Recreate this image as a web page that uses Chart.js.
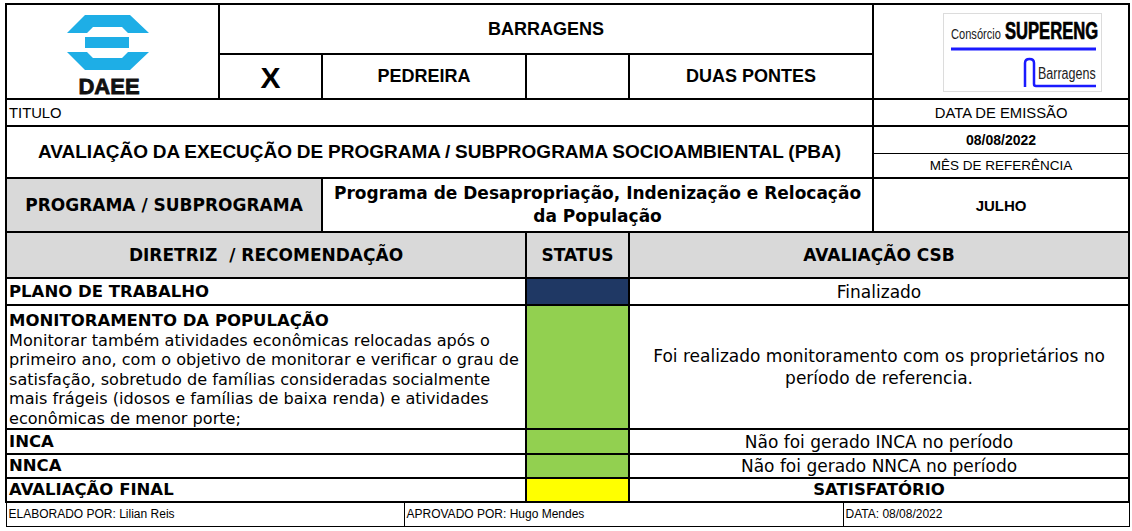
<!DOCTYPE html>
<html lang="pt-BR">
<head>
<meta charset="utf-8">
<title>Avaliação da Execução de Programa - PBA</title>
<script src="https://cdn.jsdelivr.net/npm/chart.js@4.4.0/dist/chart.umd.min.js"></script>
<style>
  html, body { margin: 0; padding: 0; background: #fff; }
  body { width: 1132px; height: 531px; overflow: hidden; position: relative; }

  #sheet {
    position: absolute; left: 5px; top: 3px;
    width: 1123px;
    border-collapse: collapse;
    table-layout: fixed;
  }
  #sheet td {
    border: 2px solid #000;
    padding: 0;
    text-align: center;
    vertical-align: middle;
    color: #000;
    font-family: "Liberation Sans", Arial, sans-serif;
    overflow: hidden;
    position: relative;
  }
  #sheet td.logo { overflow: visible; }
  #sheet td.logo svg { overflow: visible; }
  /* cabecalho (Arial) */
  .hb { font-weight: bold; font-size: 18px; }
  .bigx { font-weight: bold; font-size: 30px; padding-top: 3px !important; }
  .small { font-size: 13.5px; }
  .small15 { font-size: 14.8px; }
  .smallb { font-size: 14px; font-weight: bold; }
  .left { text-align: left !important; padding-left: 2px !important; }
  .title { font-weight: bold; font-size: 19px; word-spacing: -0.5px; }
  .thin-b { border-bottom-width: 1px !important; }
  .thin-t { border-top-width: 1px !important; }

  /* parte de baixo (Verdana) */
  .v { font-family: "DejaVu Sans", Verdana, sans-serif !important; font-size: 17px; }
  .vb { font-family: "DejaVu Sans", Verdana, sans-serif !important; font-size: 17px; font-weight: bold; }
  .gray { background: #d9d9d9; }
  .item { text-align: left !important; padding-left: 2px !important; line-height: 19.5px; }
  .item .head { font-weight: bold; font-size: 16.5px; }
  .item.tall { vertical-align: top !important; padding-top: 5px !important; }
  .item .detail { white-space: pre; font-size: 16.1px; }
  .eval { line-height: 22px; }
  .final { font-family: "DejaVu Sans", Tahoma, sans-serif !important; font-weight: bold; font-size: 16.5px !important; }
  .status .wrap { position: absolute; left: 0; top: 0; right: 0; bottom: 0; }
  .foot { font-size: 12px; text-align: left !important; padding-left: 2px !important; border-width: 1px !important; }

  svg text { font-family: "Liberation Sans", Arial, sans-serif; }
</style>
</head>
<body>

<table id="sheet">
  <colgroup>
    <col style="width:213px"><col style="width:103px"><col style="width:82px"><col style="width:122px">
    <col style="width:103px"><col style="width:214px"><col style="width:30px"><col style="width:256px">
  </colgroup>
  <tbody id="sheet-body">
    <tr style="height:50px">
      <td rowspan="2" class="logo">
        <svg width="211" height="95" viewBox="0 0 211 95" style="position:absolute;left:0;top:0">
          <g fill="#1eaee6">
            <polygon points="78,10 123,10 142,28 121,28 115,22 86,22 80,28 60,28"/>
            <rect x="78" y="32" width="44" height="11"/>
            <polygon points="60,47 80,47 86,53 115,53 121,47 142,47 123,65 78,65"/>
          </g>
          <text x="102" y="89" text-anchor="middle" font-size="22" font-weight="bold"
                fill="#111" stroke="#111" stroke-width="0.8">DAEE</text>
        </svg>
      </td>
      <td colspan="6" class="hb">BARRAGENS</td>
      <td rowspan="2" class="logo">
        <svg width="252" height="91" viewBox="0 0 252 91" style="position:absolute;left:0;top:0">
          <rect x="69.5" y="8.5" width="158" height="78" fill="#fff" stroke="#dcdcdc" stroke-width="1"/>
          <text transform="translate(77,34) scale(1,1.35)" font-size="11.1" fill="#222">Consórcio</text>
          <text transform="translate(131,34) scale(1,1.45)" font-size="16.6" font-weight="bold"
                fill="#000" stroke="#000" stroke-width="0.5">SUPERENG</text>
          <line x1="77" y1="44" x2="222" y2="44" stroke="#1a1aff" stroke-width="3"/>
          <path d="M151,82 V58 Q151,54 155.5,54 Q160,54 160,58 V79 Q160,81 162,81 H222" fill="none" stroke="#1a1aff" stroke-width="2.5"/>
          <text transform="translate(164,74) scale(1,1.3)" font-size="12.5" fill="#222">Barragens</text>
        </svg>
      </td>
    </tr>
    <tr style="height:45px">
      <td class="bigx">X</td>
      <td colspan="2" class="hb">PEDREIRA</td>
      <td></td>
      <td colspan="2" class="hb">DUAS PONTES</td>
    </tr>
    <tr style="height:27px">
      <td colspan="7" class="small15 left">TITULO</td>
      <td class="small15">DATA DE EMISSÃO</td>
    </tr>
    <tr style="height:27px">
      <td colspan="7" rowspan="2" class="title">AVALIAÇÃO DA EXECUÇÃO DE PROGRAMA / SUBPROGRAMA SOCIOAMBIENTAL (PBA)</td>
      <td class="smallb thin-b">08/08/2022</td>
    </tr>
    <tr style="height:25px">
      <td class="small thin-t">MÊS DE REFERÊNCIA</td>
    </tr>
    <tr style="height:54px">
      <td colspan="2" class="vb gray">PROGRAMA / SUBPROGRAMA</td>
      <td colspan="5" class="vb" style="line-height:23px">Programa de Desapropriação, Indenização e Relocação da População</td>
      <td class="hb" style="font-size:15px">JULHO</td>
    </tr>
    <tr style="height:46px">
      <td colspan="4" class="vb gray" style="white-space:pre">DIRETRIZ  / RECOMENDAÇÃO</td>
      <td class="vb gray">STATUS</td>
      <td colspan="3" class="vb gray">AVALIAÇÃO CSB</td>
    </tr>
    <!-- linhas de diretrizes entram aqui -->
    <tr id="footer-row" style="height:24px">
      <td colspan="3" class="foot">ELABORADO POR: Lilian Reis</td>
      <td colspan="3" class="foot">APROVADO POR: Hugo Mendes</td>
      <td colspan="2" class="foot">DATA: 08/08/2022</td>
    </tr>
  </tbody>
</table>

<script>
/* -----------------------
dados
-------------------------- */
const items = [
  'PLANO DE TRABALHO',
  'MONITORAMENTO DA POPULAÇÃO',
  'INCA',
  'NNCA',
  'AVALIAÇÃO FINAL'
];
const itemDetails = [
  '',
  'Monitorar também atividades econômicas relocadas após o\n' +
  'primeiro ano, com o objetivo de monitorar e verificar o grau de\n' +
  'satisfação, sobretudo de famílias consideradas socialmente\n' +
  'mais frágeis (idosos e famílias de baixa renda) e atividades\n' +
  'econômicas de menor porte;',
  '',
  '',
  ''
];
const statuses = ['Concluído', 'Atendido', 'Atendido', 'Atendido', 'Satisfatório'];
const evaluations = [
  'Finalizado',
  'Foi realizado monitoramento com os proprietários no período de referencia.',
  'Não foi gerado INCA no período',
  'Não foi gerado NNCA no período',
  'SATISFATÓRIO'
];
const statusFill = [1, 1, 1, 1, 1];

const statusColors = {
  'Concluído': '#1f3864',
  'Atendido': '#92d050',
  'Satisfatório': '#ffff00'
};

/* -----------------------
linhas da tabela
-------------------------- */
const body = document.getElementById('sheet-body');
const footerRow = document.getElementById('footer-row');
const rowHeights = [27, 124, 25, 24, 24];

items.forEach(function (item, i) {
  const tr = document.createElement('tr');
  tr.style.height = rowHeights[i] + 'px';

  const tdItem = document.createElement('td');
  tdItem.colSpan = 4;
  tdItem.className = 'v item' + (itemDetails[i] ? ' tall' : '');
  let html = '<div class="head">' + item + '</div>';
  if (itemDetails[i]) html += '<div class="detail">' + itemDetails[i] + '</div>';
  tdItem.innerHTML = html;

  const tdStatus = document.createElement('td');
  tdStatus.className = 'status';
  tdStatus.innerHTML = '<div class="wrap"><canvas id="status_' + i + '"></canvas></div>';

  const tdEval = document.createElement('td');
  tdEval.colSpan = 3;
  tdEval.className = 'v eval' + (i === items.length - 1 ? ' final' : '');
  tdEval.textContent = evaluations[i];

  tr.appendChild(tdItem);
  tr.appendChild(tdStatus);
  tr.appendChild(tdEval);
  body.insertBefore(tr, footerRow);
});

/* -----------------------
celulas de status (chart.js)
-------------------------- */
items.forEach(function (item, i) {
  new Chart(document.getElementById('status_' + i), {
    type: 'bar',
    data: {
      labels: [item],
      datasets: [{
        label: statuses[i],
        data: [statusFill[i]],
        backgroundColor: statusColors[statuses[i]],
        borderWidth: 0,
        barPercentage: 1,
        categoryPercentage: 1
      }]
    },
    options: {
      indexAxis: 'y',
      responsive: true,
      maintainAspectRatio: false,
      animation: false,
      layout: { padding: 0 },
      plugins: { legend: { display: false }, tooltip: { enabled: false } },
      scales: {
        x: { display: false, min: 0, max: 1 },
        y: { display: false }
      }
    }
  });
});
</script>
</body>
</html>
